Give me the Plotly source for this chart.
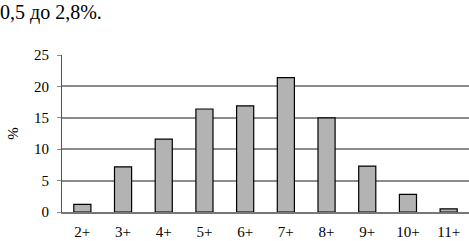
import plotly.graph_objects as go

categories = ["2+", "3+", "4+", "5+", "6+", "7+", "8+", "9+", "10+", "11+"]
values = [1.2, 7.2, 11.6, 16.4, 16.9, 21.4, 15.0, 7.3, 2.8, 0.5]
y_ticks = [0, 5, 10, 15, 20, 25]

serif = "Liberation Serif, DejaVu Serif Condensed, DejaVu Serif, serif"

fig = go.Figure(
    go.Bar(
        x=categories,
        y=values,
        marker=dict(color="#b3b3b3", line=dict(color="black", width=1.2)),
        width=0.42,
    )
)

fig.update_layout(
    width=469,
    height=241,
    margin=dict(l=62, r=0, t=55, b=29, autoexpand=False),
    paper_bgcolor="white",
    plot_bgcolor="white",
    showlegend=False,
    font=dict(family=serif, color="black"),
    title=dict(
        text="0,5 до 2,8%.",
        x=0,
        xref="container",
        xanchor="left",
        y=1 - 12 / 241,
        yref="container",
        yanchor="middle",
        font=dict(family=serif, size=20, color="black"),
        pad=dict(l=0, t=0, b=0, r=0),
    ),
)

fig.update_yaxes(
    range=[0, 25],
    tickvals=y_ticks,
    showgrid=True,
    gridcolor="#8c8c8c",
    gridwidth=1.5,
    zeroline=False,
    showline=True,
    linecolor="#555555",
    linewidth=1,
    ticks="outside",
    ticklen=4,
    tickcolor="#8c8c8c",
    tickfont=dict(family=serif, size=15, color="black"),
    ticklabelstandoff=5,
    automargin=False,
    title=dict(text="%", font=dict(family=serif, size=15, color="black"), standoff=11),
)

fig.update_xaxes(
    showgrid=False,
    showline=True,
    linecolor="#777777",
    linewidth=1.5,
    ticks="",
    automargin=False,
    tickfont=dict(family=serif, size=15, color="black"),
    ticklabelstandoff=5,
)

fig.write_html(
    "out.html",
    config={"displayModeBar": False},
    post_script="document.body.style.margin='0';document.body.style.padding='0';",
)
